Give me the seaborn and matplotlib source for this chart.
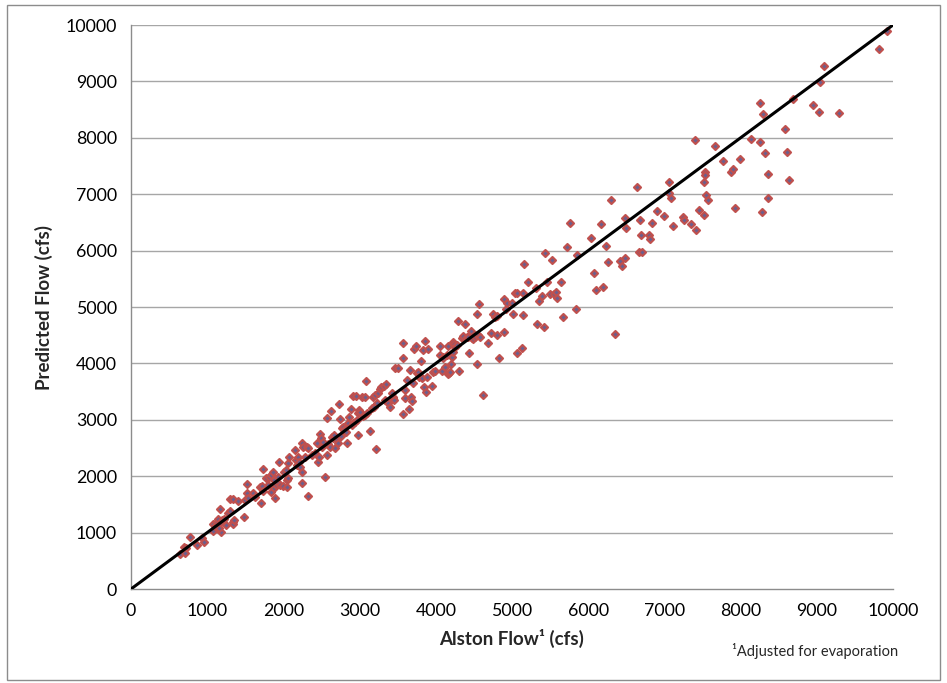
import matplotlib
matplotlib.use("Agg")
import matplotlib.pyplot as plt
import seaborn as sns
import pandas as pd
from matplotlib.patches import Rectangle

# ---- data ----
alston = [
    647, 700, 722, 709, 779, 866, 932, 954, 1072, 1080, 1102, 1128, 1146, 1172, 1181, 1159, 1190, 1225, 1247, 1268,
    1295, 1334, 1343, 1356, 1172, 1295, 1334, 1400, 1487, 1500, 1522, 1531, 1518, 1597, 1627, 1706, 1693, 1715, 1737, 1728,
    1771, 1793, 1815, 1837, 1837, 1859, 1872, 1881, 1890, 1903, 1925, 1946, 1925, 1960, 1990, 2012, 2034, 2043, 2056, 2056,
    2078, 2319, 2240, 2043,
    2152, 2165, 2183, 2196, 2209, 2218, 2240, 2248, 2261, 2283, 2305, 2327, 2371, 2414, 2436, 2458, 2471, 2480, 2489, 2502,
    2524, 2546, 2568, 2589, 2611, 2568, 2620, 2633, 2655, 2668, 2677, 2699, 2721, 2729, 2743, 2751, 2764, 2778, 2795, 2821,
    2839, 2852, 2865, 2883, 2896, 2909, 2918, 2939, 2953, 2961, 2974, 2983, 2996, 3005, 3027, 3040, 3071, 3071, 3084, 3101,
    3136, 3158, 3171, 3189, 3202, 3215, 3224, 3246, 3267, 3276, 3320, 3333, 3346, 3377, 3399, 3421, 3434, 3442, 3451, 3464,
    3508, 3565, 3574, 3574, 3595, 3595, 3617, 3652, 3661, 3670, 3683, 3696, 3714, 3740, 3757, 3770, 3784, 3801, 3814, 3836,
    3845, 3858, 3871, 3880, 3902,
    3946, 3967, 3989, 4055, 4055, 4077, 4090, 4099, 4120, 4142, 4155, 4164, 4177, 4186, 4195, 4208, 4221, 4230, 4243, 4252,
    4274, 4287, 4309, 4339, 4361, 4383, 4405, 4427, 4435, 4457, 4470, 4492, 4514, 4536, 4545, 4545, 4558, 4571, 4580, 4615,
    4680, 4724, 4746, 4777, 4798, 4807, 4825, 4895, 4895, 4921, 4938, 4995, 5017, 5039, 5061, 5061, 5127, 5148, 5140, 5162,
    5214, 5315, 5323, 5358, 5389, 5420, 5433, 5463, 5498, 5525, 5551, 5577, 5595, 5647, 5665, 5717, 5761, 5840, 5848,
    6037, 6076, 6098, 6172, 6199, 6234, 6255, 6295, 6352, 6417, 6448, 6479, 6483, 6500, 6640, 6671, 6680, 6689, 6706, 6793,
    6811, 6837, 6903, 6999, 7060, 7060, 7082, 7113, 7248, 7257, 7353, 7397, 7415, 7458, 7515, 7515, 7537, 7537, 7546, 7568,
    7668, 7765, 7869, 7896, 7922, 7992,
    8132, 8259, 8259, 8290, 8286, 8316, 8356, 8356, 8579, 8614, 8631, 8692, 8955, 9029, 9038, 9095, 9296, 9812, 9917,
]
predicted = [
    615, 750, 733, 633, 916, 786, 898, 839, 1152, 1034, 1117, 1194, 1235, 1164, 1017, 1076, 1223, 1235, 1135, 1353,
    1389, 1194, 1152, 1223, 1413, 1601, 1590, 1566, 1282, 1578, 1697, 1608, 1856, 1697, 1626, 1519, 1803, 1826, 1738, 2122,
    1963, 1844, 1991, 2021, 1725, 2080, 1933, 1785, 1608, 1844, 1874, 2257, 1991, 1844, 1826, 2080, 2110, 1933, 1963, 2229,
    2335, 1654, 1885, 1814,
    2464, 2287, 2199, 2346, 2257, 2168, 2080, 2594, 2523, 2346, 2523, 2494, 2376, 2406, 2583, 2257, 2346, 2748, 2671, 2523,
    2612, 1991, 2376, 2571, 2523, 3026, 3162, 2701, 2671, 2730, 2494, 2642, 2583, 3274, 3008, 2713, 2849, 2878, 2819, 2789,
    2594, 2937, 3055, 3186, 2908, 3422, 2949, 2966, 3422, 2996, 2730, 3115, 3174, 3144, 3410, 3067, 3085, 3410, 3688, 3115,
    2801, 3203, 3410, 3233, 3440, 2476, 3292, 3481, 3540, 3576, 3599, 3351, 3629, 3292, 3233, 3469, 3381, 3410, 3351, 3924,
    3924, 3097, 4090, 4356, 3381, 3528, 3706, 3186, 3883, 3410, 3339, 3647, 4250, 4308, 3835, 3853, 3753, 4048, 3735, 4237,
    3576, 4402, 3498, 3764, 4250,
    3599, 3853, 3871, 4314, 4149, 3871, 4119, 4090, 3941, 4149, 4308, 3812, 3835, 3853, 3989, 4119, 4208, 4385, 4344, 4296,
    4326, 4757, 3871, 4445, 4486, 4698, 4463, 4473, 4190, 4580, 4445, 4427, 4473, 4503, 3989, 4876, 4503, 5048, 4473, 3440,
    4367, 4533, 4876, 4828, 4503, 4840, 4096, 4551, 5136, 4959, 5076, 5076, 4870, 5253, 5253, 4179, 4267, 4858, 5253, 5768,
    5449, 5331, 4693, 5106, 5195, 4651, 5951, 5449, 5230, 5827, 5230, 5266, 5154, 5443, 4823, 6069, 6495, 4970, 5916,
    6218, 5597, 5301, 6466, 5349, 6081, 5803, 6903, 4521, 5810, 5727, 6578, 5874, 6401, 7122, 5970, 6542, 6271, 5981, 6271,
    6200, 6484, 6702, 6608, 7211, 7021, 6932, 6430, 6590, 6542, 6466, 7955, 6371, 6714, 7211, 6636, 7399, 7340, 6986, 6891,
    7860, 7583, 7393, 7452, 6750, 7618,
    7984, 7931, 8611, 8422, 6678, 7736, 7352, 6927, 8150, 7754, 7246, 8694, 8575, 8452, 8984, 9273, 8445, 9574, 9893,
]
diag_x = [0, 10000]
diag_y = [0, 10000]
x_ticks = [0, 1000, 2000, 3000, 4000, 5000, 6000, 7000, 8000, 9000, 10000]
y_ticks = [0, 1000, 2000, 3000, 4000, 5000, 6000, 7000, 8000, 9000, 10000]

df = pd.DataFrame({"Alston": alston, "Predicted": predicted})

sns.set_style("white")
plt.rcParams["font.family"] = ["Lato", "DejaVu Sans"]

fig = plt.figure(figsize=(9.47, 6.83), dpi=100)
ax = fig.add_axes([131 / 947, 1 - 589 / 683, (893 - 131) / 947, (589 - 25) / 683])

# outer chart border
fig.patches.append(Rectangle((7 / 947, 3 / 683), 933 / 947, 675 / 683, transform=fig.transFigure,
                             fill=False, edgecolor="#8c8c8c", linewidth=1.0, zorder=0))

# gridlines
for yv in y_ticks[1:]:
    ax.axhline(yv, color="#a6a6a6", linewidth=1.0, zorder=1)

sns.scatterplot(data=df, x="Alston", y="Predicted", ax=ax, marker="D", s=13,
                color="#6a5f8e", edgecolor="#c0504d", linewidth=1.5, zorder=3, legend=False)
ax.plot(diag_x, diag_y, color="black", linewidth=2.2, zorder=4)

ax.set_xlim(0, 10000)
ax.set_ylim(0, 10000)
ax.set_xticks(x_ticks)
ax.set_yticks(y_ticks)
ax.set_xticklabels([str(v) for v in x_ticks], fontsize=12.8)
ax.set_yticklabels([str(v) for v in y_ticks], fontsize=12.8)
ax.tick_params(axis="both", direction="out", length=5, width=1, color="#8c8c8c", labelcolor="black")
ax.tick_params(axis="x", pad=5)
ax.tick_params(axis="y", pad=5)

for s in ["top", "right"]:
    ax.spines[s].set_visible(False)
for s in ["left", "bottom"]:
    ax.spines[s].set_color("#8c8c8c")
    ax.spines[s].set_linewidth(1.0)

ax.set_xlabel("Alston Flow¹ (cfs)", fontsize=13.5, fontweight="bold", labelpad=7)
ax.set_ylabel("Predicted Flow (cfs)", fontsize=13.5, fontweight="bold", labelpad=9)

fig.text(898 / 947, 1 - 651 / 683, "¹Adjusted for evaporation", fontsize=10.5, ha="right", va="center")

fig.savefig("out.png", dpi=100)
